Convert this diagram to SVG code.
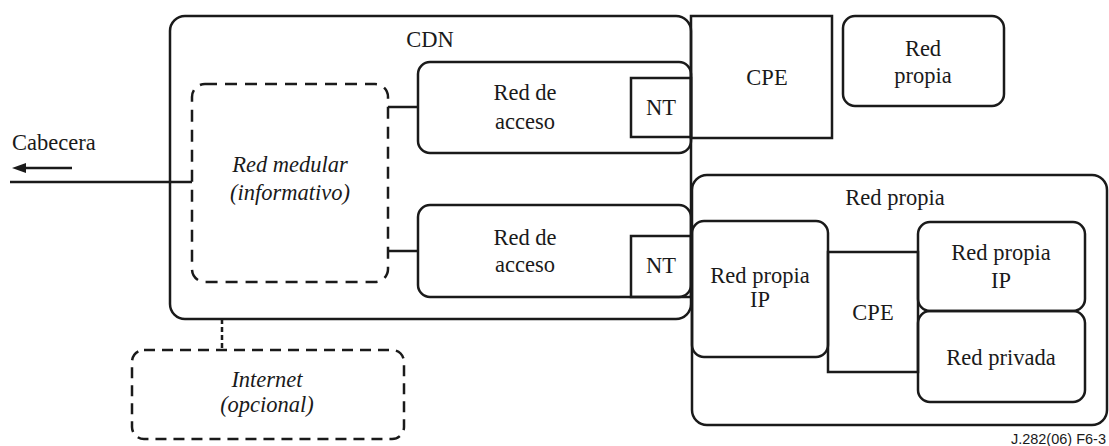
<svg xmlns="http://www.w3.org/2000/svg" width="1109" height="446" viewBox="0 0 1109 446">
<style>
.b{fill:none;stroke:#1a1a1a;stroke-width:2.5}
.d{fill:none;stroke:#1a1a1a;stroke-width:2.5;stroke-dasharray:12 8}
.di{fill:none;stroke:#1a1a1a;stroke-width:2.5;stroke-dasharray:11 7}
.l{fill:none;stroke:#1a1a1a;stroke-width:2.5}
.t{font-family:'Liberation Serif','Times New Roman','DejaVu Serif',serif;font-size:22.5px;fill:#1a1a1a;text-anchor:middle}
.i{font-style:italic}
.f{font-family:'Liberation Sans',Arial,sans-serif;font-size:14.5px;fill:#1a1a1a;text-anchor:end}
</style>
<defs>
<marker id="ah" viewBox="0 0 14 10" refX="0" refY="5" markerWidth="14" markerHeight="10" orient="auto" markerUnits="userSpaceOnUse">
<path d="M0,0 L14,5 L0,10 Z" fill="#1a1a1a"/>
</marker>
</defs>
<g id="cdn">
<rect class="b" x="170" y="16" width="521" height="303" rx="15"/>
<text class="t" x="430" y="47">CDN</text>
</g>
<g id="medular">
<rect class="d" x="192" y="84" width="196" height="198" rx="13"/>
<text class="t i" x="290" y="172">Red medular</text>
<text class="t i" x="290" y="200">(informativo)</text>
</g>
<g id="acceso1">
<rect class="b" x="418" y="62" width="273" height="91" rx="12"/>
<text class="t" x="525" y="100">Red de</text>
<text class="t" x="525" y="129">acceso</text>
</g>
<g id="nt1">
<rect class="b" x="631" y="78" width="60" height="59"/>
<text class="t" x="661" y="115">NT</text>
</g>
<g id="acceso2">
<rect class="b" x="418" y="205" width="273" height="92" rx="12"/>
<text class="t" x="525" y="245">Red de</text>
<text class="t" x="525" y="272">acceso</text>
</g>
<g id="nt2">
<rect class="b" x="631" y="236" width="60" height="61"/>
<text class="t" x="661" y="273">NT</text>
</g>
<g id="cpe1">
<rect class="b" x="691" y="16" width="141" height="122"/>
<text class="t" x="767" y="85">CPE</text>
</g>
<g id="redpropia1">
<rect class="b" x="843" y="16" width="161" height="90" rx="12"/>
<text class="t" x="923" y="56">Red</text>
<text class="t" x="923" y="83">propia</text>
</g>
<g id="redpropia2">
<rect class="b" x="692" y="175" width="415" height="250" rx="15"/>
<text class="t" x="895" y="205">Red propia</text>
</g>
<g id="cpe2">
<rect class="b" x="828" y="252" width="90" height="120"/>
<text class="t" x="873" y="320">CPE</text>
</g>
<g id="redpropiaip1">
<rect class="b" x="692" y="221" width="136" height="136" rx="12"/>
<text class="t" x="760" y="283">Red propia</text>
<text class="t" x="760" y="307">IP</text>
</g>
<g id="redpropiaip2">
<rect class="b" x="918" y="222" width="167" height="89" rx="12"/>
<text class="t" x="1001" y="260">Red propia</text>
<text class="t" x="1001" y="288">IP</text>
</g>
<g id="redprivada">
<rect class="b" x="918" y="311" width="167" height="91" rx="12"/>
<text class="t" x="1001" y="365">Red privada</text>
</g>
<g id="internet">
<rect class="di" x="132" y="350" width="272" height="89" rx="12"/>
<text class="t i" x="267" y="387">Internet</text>
<text class="t i" x="267" y="412">(opcional)</text>
</g>
<g id="cabecera">
<text class="t" x="12" y="150" style="text-anchor:start">Cabecera</text>
</g>
<g id="connectors">
<line class="l" x1="10" y1="182" x2="192" y2="182"/>
<line class="l" x1="72" y1="168" x2="26" y2="168" marker-end="url(#ah)"/>
<line class="l" x1="388" y1="107" x2="418" y2="107"/>
<line class="l" x1="388" y1="251" x2="418" y2="251"/>
<line class="l" x1="222" y1="319" x2="222" y2="350" style="stroke-dasharray:5 3"/>
</g>
<text class="f" x="1106" y="444">J.282(06)  F6-3</text>
</svg>
